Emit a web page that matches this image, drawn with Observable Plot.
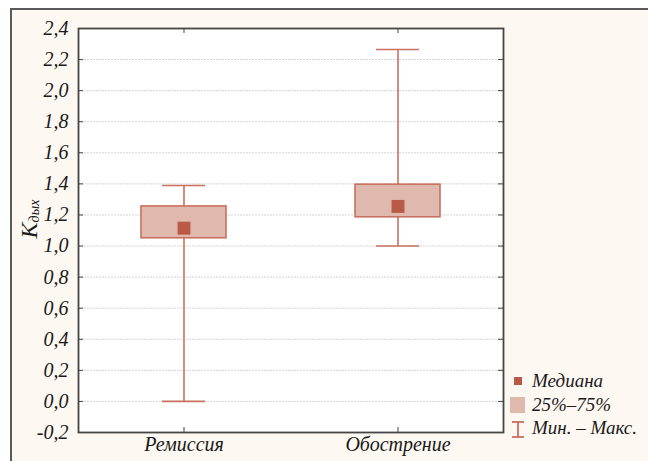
<!DOCTYPE html>
<html><head><meta charset="utf-8">
<script src="https://cdn.jsdelivr.net/npm/d3@7"></script>
<script src="https://cdn.jsdelivr.net/npm/@observablehq/plot@0.6"></script>
<style>
html,body{margin:0;padding:0;background:#fff;}
#wrap{position:relative;width:648px;height:461px;overflow:hidden;font-family:"Liberation Serif",serif;font-style:italic;color:#1a1a1a;}
#bg{position:absolute;left:10px;top:8px;width:700px;height:500px;background:#fdf8f1;border-top:2px solid #5a5a5a;border-left:2px solid #5a5a5a;}
#chart{position:absolute;left:0;top:0;}
#chart text{font-family:"Liberation Serif",serif;font-style:italic;}
#ytitle{position:absolute;left:29px;top:219px;transform:translate(-50%,-50%) rotate(-90deg);white-space:nowrap;font-size:24px;line-height:1;}
#ytitle sub{font-size:14px;vertical-align:-2px;}
#legend{position:absolute;left:508px;top:368px;font-size:19px;line-height:1;}
.li{position:absolute;white-space:nowrap;}
</style></head>
<body>
<div id="wrap">
<div id="bg"></div>
<div id="chart"></div>
<div id="ytitle">K<sub>дых</sub></div>
<div id="legend"></div>
</div>
<script>
const categories = ["Ремиссия", "Обострение"];
const minVals = [0.0, 1.0];
const q1Vals = [1.05, 1.185];
const medianVals = [1.115, 1.255];
const q3Vals = [1.255, 1.395];
const maxVals = [1.39, 2.265];
const yTicks = [-0.2, 0.0, 0.2, 0.4, 0.6, 0.8, 1.0, 1.2, 1.4, 1.6, 1.8, 2.0, 2.2, 2.4];
const legendLabels = ["Медиана", "25%–75%", "Мин. – Макс."];

const data = categories.map((c, i) => ({cat: c, min: minVals[i], q1: q1Vals[i], med: medianVals[i], q3: q3Vals[i], max: maxVals[i]}));

const strokeC = "#c9705e";
const fillC = "#dfb9ad";
const medC = "#b95a47";
const W = 648, H = 461, mL = 78, mR = 145, mT = 28, mB = 29;
const pw = W - mL - mR, ph = H - mT - mB;
const fmt = d => (d < 0 ? "-" : "") + Math.abs(d).toFixed(1).replace(".", ",");
const font = {fontFamily: "Liberation Serif", fontStyle: "italic"};

const plot = Plot.plot({
  width: W, height: H,
  marginLeft: mL, marginRight: mR, marginTop: mT, marginBottom: mB,
  style: {background: "transparent", fontFamily: "Liberation Serif", fontStyle: "italic", fontSize: "20px", color: "#1a1a1a"},
  x: {type: "band", domain: categories, paddingInner: 0.603, paddingOuter: 0.292},
  y: {domain: [-0.2, 2.4]},
  marks: [
    Plot.frame({fill: "white", stroke: null}),
    Plot.ruleY(yTicks.filter(d => d > -0.2 && d < 2.4), {y: d => d, stroke: "#d2d2d2", strokeDasharray: "2,1", strokeWidth: 1}),
    Plot.ruleX(data, {x: "cat", y1: "min", y2: "q1", stroke: strokeC, strokeWidth: 1.6}),
    Plot.ruleX(data, {x: "cat", y1: "q3", y2: "max", stroke: strokeC, strokeWidth: 1.6}),
    Plot.tickY(data, {x: "cat", y: "min", stroke: strokeC, strokeWidth: 1.6, insetLeft: 21, insetRight: 21}),
    Plot.tickY(data, {x: "cat", y: "max", stroke: strokeC, strokeWidth: 1.6, insetLeft: 21, insetRight: 21}),
    Plot.barY(data, {x: "cat", y1: "q1", y2: "q3", fill: fillC, stroke: strokeC, strokeWidth: 1.6}),
    Plot.dot(data, {x: "cat", y: "med", symbol: "square", r: 7.3, fill: medC, stroke: null}),
    Plot.tickY(yTicks, {y: d => d, stroke: "#444", insetRight: pw - 5}),
    Plot.tickY(yTicks, {y: d => d, stroke: "#444", insetLeft: pw - 5}),
    Plot.tickX(categories, {x: d => d, stroke: "#444", insetTop: ph - 5}),
    Plot.tickX(categories, {x: d => d, stroke: "#444", insetBottom: ph - 5}),
    Plot.frame({stroke: "#454545", strokeWidth: 1.8}),
    Plot.axisY(yTicks, {anchor: "left", tickSize: 0, tickPadding: 10, tickFormat: fmt, fontSize: 20, label: null, fill: "#1a1a1a", ...font}),
    Plot.axisX(categories, {anchor: "bottom", tickSize: 0, tickPadding: 4, fontSize: 20, label: null, fill: "#1a1a1a", ...font})
  ]
});
document.getElementById("chart").appendChild(plot);

// legend
const lg = document.getElementById("legend");
const items = [
  {top: 3, sym: `<div style="position:absolute;left:6px;top:6px;width:8px;height:8px;background:${medC}"></div>`},
  {top: 27, sym: `<div style="position:absolute;left:2px;top:2px;width:15px;height:16px;background:${fillC}"></div>`},
  {top: 50, sym: `<svg style="position:absolute;left:2px;top:3px" width="16" height="17"><line x1="2" x2="14" y1="1" y2="1" stroke="${strokeC}" stroke-width="1.8"/><line x1="8" x2="8" y1="1" y2="16" stroke="${strokeC}" stroke-width="1.8"/><line x1="2" x2="14" y1="16" y2="16" stroke="${strokeC}" stroke-width="1.8"/></svg>`}
];
items.forEach((it, i) => {
  const d = document.createElement("div");
  d.className = "li";
  d.style.top = it.top + "px";
  d.style.left = "0px";
  d.innerHTML = it.sym + `<span style="position:absolute;left:24px;top:0px">${legendLabels[i]}</span>`;
  lg.appendChild(d);
});
</script>
</body></html>
